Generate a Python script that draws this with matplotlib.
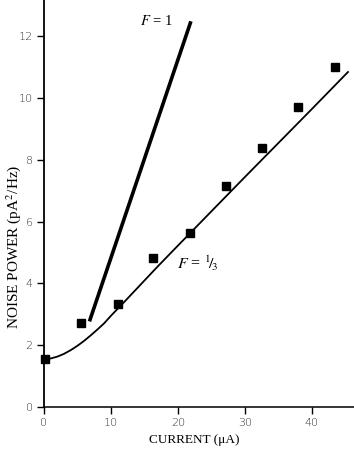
import matplotlib
matplotlib.use("Agg")
import matplotlib.pyplot as plt

# measured points (current in uA, noise power in pA^2/Hz)
meas_x = [0.15, 5.6, 11.0, 16.3, 21.8, 27.2, 32.6, 38.0, 43.5]
meas_y = [1.55, 2.72, 3.33, 4.82, 5.63, 7.15, 8.38, 9.71, 11.0]

# F = 1/3 curve
fit_x = [0, 1, 2, 3, 4, 5, 6, 7, 8, 9, 10, 12, 14, 17, 20, 25, 30, 35, 40, 45.4]
fit_y = [1.55, 1.57, 1.63, 1.72, 1.84, 1.98, 2.14, 2.32, 2.51, 2.71, 2.95,
         3.40, 3.86, 4.55, 5.22, 6.33, 7.44, 8.54, 9.64, 10.84]

# F = 1 line end points
full_x = [6.8, 21.95]
full_y = [2.77, 12.48]

x_ticks = [0, 10, 20, 30, 40]
y_ticks = [0, 2, 4, 6, 8, 10, 12]

plt.rcParams["mathtext.fontset"] = "stix"

fig = plt.figure(figsize=(3.54, 4.54), dpi=100)
ax = fig.add_axes([0.124, 0.1035, 0.876, 0.8965])

ax.plot(fit_x, fit_y, color="black", linewidth=1.3)
ax.plot(full_x, full_y, color="black", linewidth=2.6, solid_capstyle="butt")
ax.plot(meas_x, meas_y, linestyle="none", marker="s", markersize=5.2,
        color="black", clip_on=False)

ax.set_xlim(0, 46.3)
ax.set_ylim(0, 13.17)
ax.set_xticks(x_ticks)
ax.set_yticks(y_ticks)

for side in ["top", "right"]:
    ax.spines[side].set_visible(False)
ax.spines["left"].set_linewidth(1.3)
ax.spines["bottom"].set_linewidth(1.1)
ax.tick_params(direction="out", length=5, width=1.0, labelsize=8,
               colors="black", labelcolor="#333333", pad=3)
for lab in ax.get_xticklabels() + ax.get_yticklabels():
    lab.set_family("DejaVu Sans")
    lab.set_fontweight("light")

ax.set_xlabel("CURRENT (\u03bcA)", family="Liberation Serif", fontsize=9.5)
ax.xaxis.set_label_coords(0.484, -0.066)
ax.set_ylabel("NOISE POWER (pA$^2$/Hz)", family="Liberation Serif",
              fontsize=11)
ax.yaxis.set_label_coords(-0.068, 0.393)

ax.text(16.8, 12.5, r"$F$ = 1", family="Liberation Serif", fontsize=10.5,
        ha="center", va="center")
ax.text(23.0, 4.66, r"$F$ = $^1\!/\!_3$", family="Liberation Serif",
        fontsize=11.5, ha="center", va="center")

fig.savefig("out.png", dpi=100)
